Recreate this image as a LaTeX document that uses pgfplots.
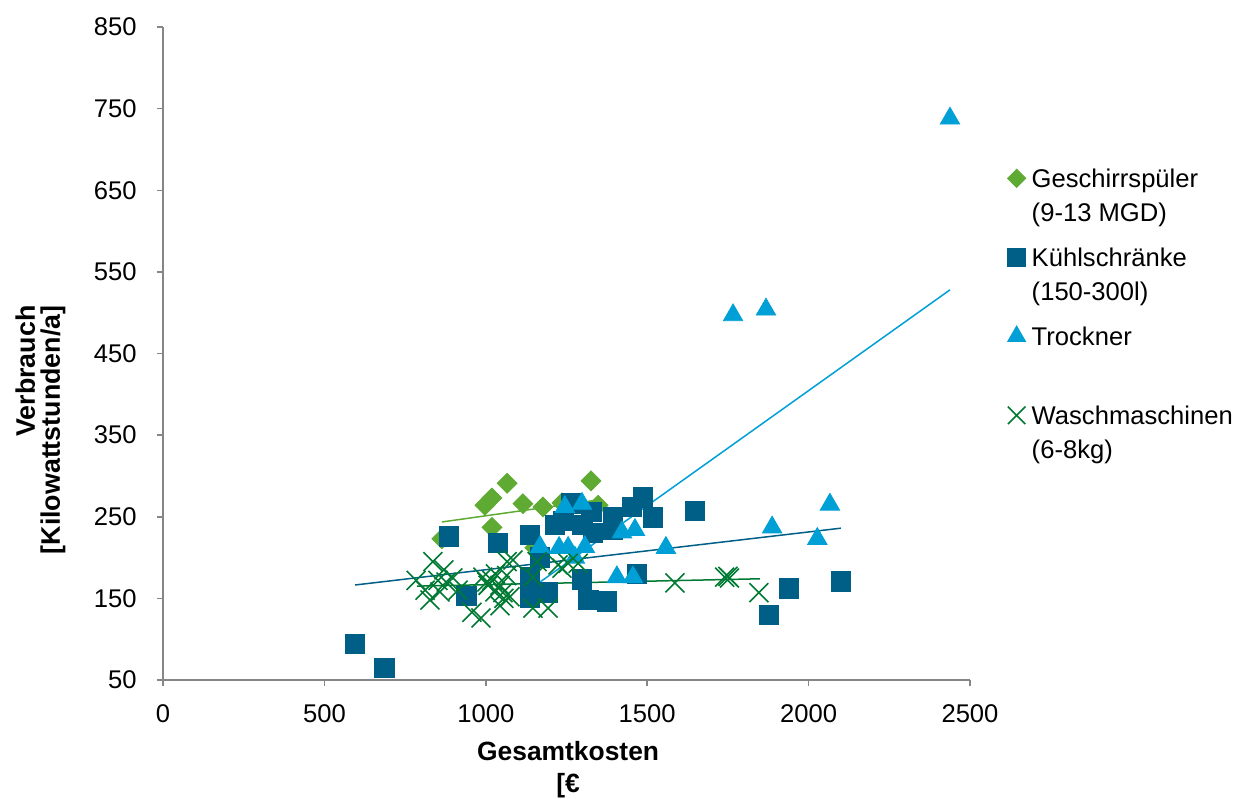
\documentclass[border=0pt]{standalone}
\usepackage{fontspec}
\setmainfont{Liberation Sans}
\usepackage{pgfplots}
\pgfplotsset{compat=1.18}
\definecolor{cGes}{RGB}{94,170,50}
\definecolor{cKuehl}{RGB}{0,95,135}
\definecolor{cTrock}{RGB}{0,160,214}
\definecolor{cWasch}{RGB}{0,122,51}
\definecolor{axgray}{RGB}{134,134,134}
\newcommand\La{\rule[-4pt]{0pt}{17pt}}
\newcommand\Lb{\rule[-9.5pt]{0pt}{22.5pt}}
\begin{document}
\begin{tikzpicture}
\useasboundingbox (0,0) rectangle (625pt,399.5pt);
\begin{axis}[
  at={(81.5pt,59.5pt)}, anchor=south west,
  scale only axis, width=403.5pt, height=326.5pt,
  xmin=0, xmax=2500, ymin=50, ymax=850,
  axis lines=left,
  axis line style={-, draw=axgray, line width=0.75pt},
  xtick={0,500,...,2500}, ytick={50,150,...,850},
  tick align=outside, major tick length=3pt,
  tick style={draw=axgray, line width=0.75pt},
  /pgf/number format/set thousands separator={},
  /pgf/number format/assume math mode=true,
  tick label style={font=\fontsize{12.8}{15}\selectfont, text=black},
  yticklabel style={inner xsep=0pt, xshift=-10pt},
  xticklabel style={inner ysep=0pt, yshift=-9pt},
  xlabel={Gesamtkosten\\{[}€},
  ylabel={Verbrauch\\{[}Kilowattstunden/a{]}},
  xlabel style={font=\fontsize{13.2}{16}\selectfont\bfseries, align=center,
    at={(axis description cs:0.502,-0.137)}, anchor=center},
  ylabel style={font=\fontsize{13.4}{12.5}\selectfont\bfseries, align=right,
    at={(axis description cs:-0.152,0.383)}, anchor=center, rotate=0},
  legend style={draw=none, fill=none, at={(axis description cs:1.046,0.795)},
    anchor=north west, font=\fontsize{12.8}{15}\selectfont,
    row sep=0pt, column sep=3pt, inner sep=0pt,
    nodes={inner sep=0pt, text depth=}},
  legend cell align=left,
  legend image code/.code={\draw[#1, every mark/.append style={scale=0.92}] plot coordinates {(0pt,0pt)};},
  clip=false,
]
% Geschirrspueler
\addplot[only marks, mark=square*, mark size=3.5pt, color=cGes,
  mark options={rotate=45, fill=cGes, draw=cGes}] coordinates {
(864,223) (997,264) (1019,273) (1066,291) (1019,237) (1115,266) (1177,262)
(1326,294) (1348,264) (1236,267) (1152,212)
};
\addlegendentry{\La Geschirrspüler}
\addlegendimage{empty legend}
\addlegendentry{\Lb (9-13 MGD)}
% Kuehlschraenke
\addplot[only marks, mark=square*, mark size=4.9pt, color=cKuehl,
  mark options={fill=cKuehl, draw=cKuehl}] coordinates {
(595,94) (685,65) (886,226) (1038,218) (939,153) (1266,266) (1214,240)
(1137,228) (1328,256) (1332,230) (1394,250) (1168,200) (1137,176) (1137,151)
(1190,157) (1298,173) (1317,148) (1375,146) (1487,274) (1453,262) (1518,249)
(1648,257) (1468,180) (1939,162) (1877,130) (2100,171) (1394,234) (1240,245)
(1300,240)
};
\addlegendentry{\La Kühlschränke}
\addlegendimage{empty legend}
\addlegendentry{\Lb (150-300l)}
% Trockner
\addplot[only marks, mark=triangle*, mark size=5.6pt, color=cTrock,
  mark options={fill=cTrock, draw=cTrock}] coordinates {
(2438,738) (1766,497) (1868,504) (1558,212) (1887,237) (2066,265) (2027,223)
(1245,262) (1298,266) (1168,213) (1227,212) (1255,212) (1307,213) (1276,200)
(1422,231) (1462,234) (1406,176) (1456,176)
};
\addlegendentry{\La Trockner}
\addlegendimage{empty legend}
\addlegendentry{\Lb}
% Waschmaschinen
\addplot[only marks, mark=x, mark size=6.7pt, color=cWasch,
  mark options={draw=cWasch, line width=0.8pt}] coordinates {
(836,195) (784,172) (812,160) (827,148) (852,172) (877,170) (898,175) (858,158)
(914,160) (957,133) (985,126) (991,176) (1007,166) (1019,172) (1028,158)
(1044,166) (1056,150) (1066,195) (1044,141) (1084,197) (1075,152) (1053,157)
(1146,176) (1159,195) (1224,191) (1236,187) (1286,193) (1146,138) (1193,138)
(1586,169) (1740,176) (1750,177) (1755,175) (1846,157) (1065,178) (1255,193)
(1003,170) (1030,180) (870,185)
};
\addlegendentry{\La Waschmaschinen}
\addlegendimage{empty legend}
\addlegendentry{\Lb (6-8kg)}
% trend lines
\addplot[forget plot, color=cGes, line width=0.75pt] coordinates {(864,243.6) (1355,271)};
\addplot[forget plot, color=cKuehl, line width=0.75pt] coordinates {(595,166.4) (2100,236)};
\addplot[forget plot, color=cTrock, line width=0.75pt] coordinates {(1168,170) (2438,528)};
\addplot[forget plot, color=cWasch, line width=0.75pt] coordinates {(787,165) (1849,174)};
\end{axis}
\end{tikzpicture}
\end{document}
